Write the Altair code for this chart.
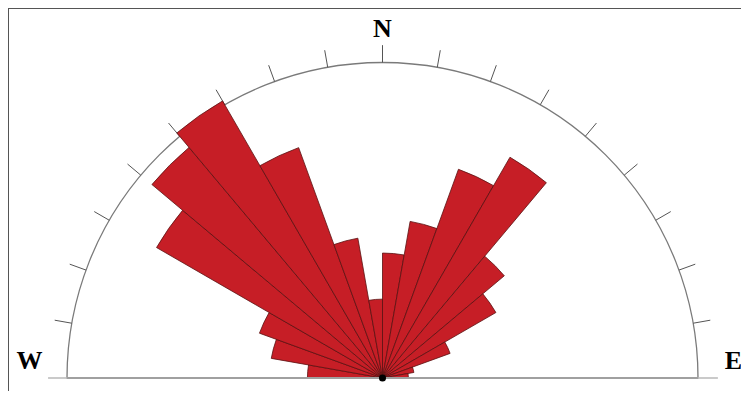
import altair as alt
import numpy as np
import pandas as pd

# ---- data ----
# 10-degree azimuth bins from W (-90) through N (0) to E (+90)
bin_start = [-90, -80, -70, -60, -50, -40, -30, -20, -10, 0, 10, 20, 30, 40, 50, 60, 70, 80]
bin_len = [23.8, 35.8, 41.5, 82.7, 95.4, 101.4, 77.7, 45.0, 25.0,
           39.6, 50.4, 70.4, 80.8, 50.4, 41.5, 22.8, 10.1, 8.2]
tick_az = [-80, -70, -60, -50, -40, -30, -20, -10, 0, 10, 20, 30, 40, 50, 60, 70, 80]
labels = ["W", "N", "E"]

# ---- layout ----
W, H = 733, 383
CX, CY = 374.5, 370.0        # centre of the rose in plot pixels
RPX = 315.5                  # outer circle radius in px
K = RPX / 100.0              # px per unit
xs = alt.Scale(domain=[-CX / K, (W - CX) / K], range=[0, W], nice=False, zero=False)
ys = alt.Scale(domain=[-(H - CY) / K, CY / K], nice=False, zero=False)
ts = alt.Scale(domain=[-90, 90], range=[-np.pi / 2, np.pi / 2])
rs = alt.Scale(type="linear", domain=[0, 100], range=[0, RPX], zero=True)

bars = pd.DataFrame({
    "t0": bin_start,
    "t1": [b + 10 for b in bin_start],
    "len": bin_len,
    "cx": 0.0,
    "cy": 0.0,
})
outline = pd.DataFrame({"t0": [-90], "t1": [90], "len": [100], "cx": [0.0], "cy": [0.0]})

ta = np.radians(tick_az)
ticks = pd.DataFrame({
    "x": 100 * np.sin(ta), "y": 100 * np.cos(ta),
    "x2": 105.5 * np.sin(ta), "y2": 105.5 * np.cos(ta),
})
base = pd.DataFrame({"x": [-100.0], "x2": [100.0], "y": [0.0]})
ext = pd.DataFrame({"x": [-106.0, 100.0], "x2": [-100.0, 106.3], "y": [0.0, 0.0]})
lab = pd.DataFrame({"text": labels, "x": [-111.9, 0.0, 111.2], "y": [5.3, 110.6, 5.3]})
frame = pd.DataFrame({
    "x": [-CX / K, -CX / K], "x2": [(W - CX) / K, -CX / K],
    "y": [CY / K, CY / K], "y2": [CY / K, -(H - CY) / K],
})
centre = pd.DataFrame({"x": [0.0], "y": [0.0]})

X = lambda f: alt.X(f, type="quantitative", scale=xs, axis=None)
Y = lambda f: alt.Y(f, type="quantitative", scale=ys, axis=None)

arc_outline = alt.Chart(outline).mark_arc(
    fillOpacity=0, stroke="#7a7a7a", strokeWidth=1.3
).encode(
    x=X("cx"), y=Y("cy"),
    theta=alt.Theta("t0:Q", scale=ts, stack=None), theta2="t1:Q",
    radius=alt.Radius("len:Q", scale=rs), radius2=alt.value(0),
)

tick_layer = alt.Chart(ticks).mark_rule(color="#555555", strokeWidth=1).encode(
    x=X("x"), y=Y("y"), x2="x2:Q", y2="y2:Q"
)

base_layer = alt.Chart(base).mark_rule(color="#a0a0a0", strokeWidth=2).encode(
    x=X("x"), x2="x2:Q", y=Y("y")
)
ext_layer = alt.Chart(ext).mark_rule(color="#b8b8b8", strokeWidth=1.5).encode(
    x=X("x"), x2="x2:Q", y=Y("y")
)

bar_layer = alt.Chart(bars).mark_arc(
    fill="#c61e26", stroke="#5a1212", strokeWidth=0.8
).encode(
    x=X("cx"), y=Y("cy"),
    theta=alt.Theta("t0:Q", scale=ts, stack=None), theta2="t1:Q",
    radius=alt.Radius("len:Q", scale=rs), radius2=alt.value(0),
)

centre_layer = alt.Chart(centre).mark_circle(color="black", size=50, opacity=1).encode(
    x=X("x"), y=Y("y")
)

text_layer = alt.Chart(lab).mark_text(
    font="Liberation Serif", fontWeight="bold", fontSize=26, color="black",
    align="center", baseline="middle"
).encode(x=X("x"), y=Y("y"), text="text:N")

frame_layer = alt.Chart(frame).mark_rule(color="#555555", strokeWidth=2).encode(
    x=X("x"), x2="x2:Q", y=Y("y"), y2="y2:Q"
)

chart = alt.layer(
    frame_layer, arc_outline, tick_layer, ext_layer, bar_layer, base_layer,
    centre_layer, text_layer
).properties(
    width=W, height=H, padding=0, autosize="none", background="white"
).configure_view(stroke=None)

chart.save("out.html", embed_options={"renderer": "svg", "actions": False})
